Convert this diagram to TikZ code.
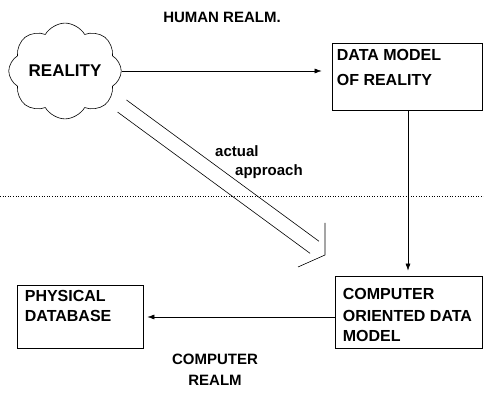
\documentclass[tikz,border=0pt]{standalone}
\usepackage{fontspec}
\setmainfont{Liberation Sans}
\usetikzlibrary{arrows.meta,positioning,calc,shapes.symbols}
\tikzset{
  realm/.style  ={font=\fontsize{15}{21}\selectfont\bfseries,align=center,inner sep=0pt},
  box/.style    ={draw,line width=0.7pt,inner sep=0pt},
  boxtxt/.style ={font=\fontsize{16}{22}\selectfont\bfseries,align=left,
                  anchor=north west,inner sep=0pt},
  puff/.style   ={cloud,draw,cloud puffs=8,cloud puff arc=120,aspect=1.3,
                  line width=0.6pt,inner sep=0pt,font=\fontsize{17}{20}\selectfont\bfseries},
  flow/.style   ={-{Latex[length=7pt,width=5pt]},line width=0.6pt},
  wing/.style   ={line width=0.6pt},
  border/.style ={dotted,line width=0.6pt},
}

\begin{document}
\begin{tikzpicture}[x=1pt,y=-1pt]
\useasboundingbox (0,0) rectangle (484,395);

% realms
\node[realm] (human) at (222,17) {HUMAN REALM.};
\node[realm] (comp) at (215,370) {COMPUTER\\REALM};

% models
\node[puff,minimum width=106pt,minimum height=80pt] (reality) at (65,71) {REALITY};
\node[box,minimum width=150pt,minimum height=67pt] (dmodel) at (407,76.5) {};
\node[boxtxt] (dmtxt) at ([shift={(5pt,-6pt)}]dmodel.north west) {DATA MODEL\\[3pt]OF REALITY};
\node[box,minimum width=147pt,minimum height=72pt] (cdmodel) at (408.5,312) {};
\node[boxtxt] (cdtxt) at ([shift={(8pt,-12pt)}]cdmodel.north west) {COMPUTER\\ORIENTED DATA\\[-2pt]MODEL};
\node[box,minimum width=126pt,minimum height=63pt] (physdb) at (80,316.5) {};
\node[boxtxt] (pdtxt) at ([shift={(8pt,-5pt)}]physdb.north west) {PHYSICAL\\[-2pt]DATABASE};

% actual approach
\coordinate (apstart) at (122,106);
\coordinate (tip) at (325,255);
\coordinate (apend) at ($(tip)!13pt!(apstart)$);
\draw[wing] ($(apstart)!7.5pt!-90:(apend)$) -- ($(apend)!7.5pt!90:(apstart)$);
\draw[wing] ($(apstart)!7.5pt!90:(apend)$) -- ($(apend)!7.5pt!-90:(apstart)$);
\draw[wing] ([yshift=32pt]tip) -- (tip) -- ([shift={(-27pt,-12pt)}]tip);
\node[boxtxt,font=\fontsize{15}{19}\selectfont\bfseries] (aptxt) at (215,145)
  {actual\\\hspace*{20pt}approach};

% realm border
\coordinate (wl) at (0,196);
\coordinate (wr) at (484,196);
\draw[border] (wl) -- (wr);

\draw[flow,shorten >=10pt] (reality.east) -- (reality.east -| dmodel.west);
\draw[flow,shorten >=5pt] ([xshift=1pt]dmodel.south) -- ([xshift=1pt]dmodel.south |- cdmodel.north);
\draw[flow,shorten >=4pt] ([yshift=-5pt]cdmodel.west) -- ([yshift=-5pt]cdmodel.west -| physdb.east);
\end{tikzpicture}
\end{document}
